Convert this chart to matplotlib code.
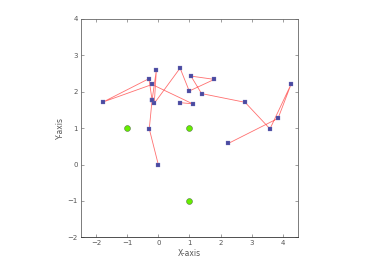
import matplotlib
matplotlib.use("Agg")
import matplotlib.pyplot as plt
import numpy as np

# main walk path
path1_x = [0.00, -0.29, -0.20, -0.06, -0.13, 0.70, 0.995, 1.80, 1.05, 1.39, 2.79, 3.59, 4.27, 3.85, 2.25]
path1_y = [0.00, 0.98, 1.77, 2.61, 1.68, 2.65, 2.02, 2.34, 2.43, 1.95, 1.71, 0.98, 2.21, 1.27, 0.58]
# second path
path2_x = [0.71, 1.10, -0.20, -1.77, -0.30, -0.20]
path2_y = [1.70, 1.67, 2.20, 1.72, 2.36, 1.77]
# green anchor points
anchor_x = [-1, 1, 1]
anchor_y = [1, 1, -1]

xticks = [-2, -1, 0, 1, 2, 3, 4]
yticks = [-2, -1, 0, 1, 2, 3, 4]

fig = plt.figure(figsize=(3.66, 2.67), dpi=100)
ax = fig.add_axes([0.22, 0.111, 0.595, 0.818])

line_kw = dict(color="#ff6060", lw=0.6, alpha=0.9, zorder=2)
mk_kw = dict(ls="none", marker="s", ms=2.2, mfc="#4a4aa0", mec="#7a7ac0", mew=0.2, zorder=3)
for xs, ys in [(path1_x, path1_y), (path2_x, path2_y)]:
    ax.plot(xs, ys, **line_kw)
    ax.plot(xs, ys, **mk_kw)

ax.plot(anchor_x, anchor_y, ls="none", marker="o", ms=4.2, mfc="#66ee00", mec="#557744", mew=0.4, zorder=4)

ax.set_xlim(-2.5, 4.5)
ax.set_ylim(-2, 4)
ax.set_xticks(xticks)
ax.set_yticks(yticks)
ax.set_xticklabels(["\u22122" if t == -2 else ("\u22121" if t == -1 else str(t)) for t in xticks])
ax.set_yticklabels(["\u22122" if t == -2 else ("\u22121" if t == -1 else str(t)) for t in yticks])
ax.tick_params(direction="in", length=2.5, width=0.4, labelsize=5, colors="#555555",
               top=True, right=True, pad=2)
for s in ax.spines.values():
    s.set_color("#666666")
    s.set_linewidth(0.6)
ax.spines["bottom"].set_color("#333333")
ax.set_xlabel("X-axis", fontsize=5.5, color="#555555", labelpad=2)
ax.set_ylabel("Y-axis", fontsize=5.5, color="#555555", labelpad=2)

fig.savefig("out.png", dpi=100)
